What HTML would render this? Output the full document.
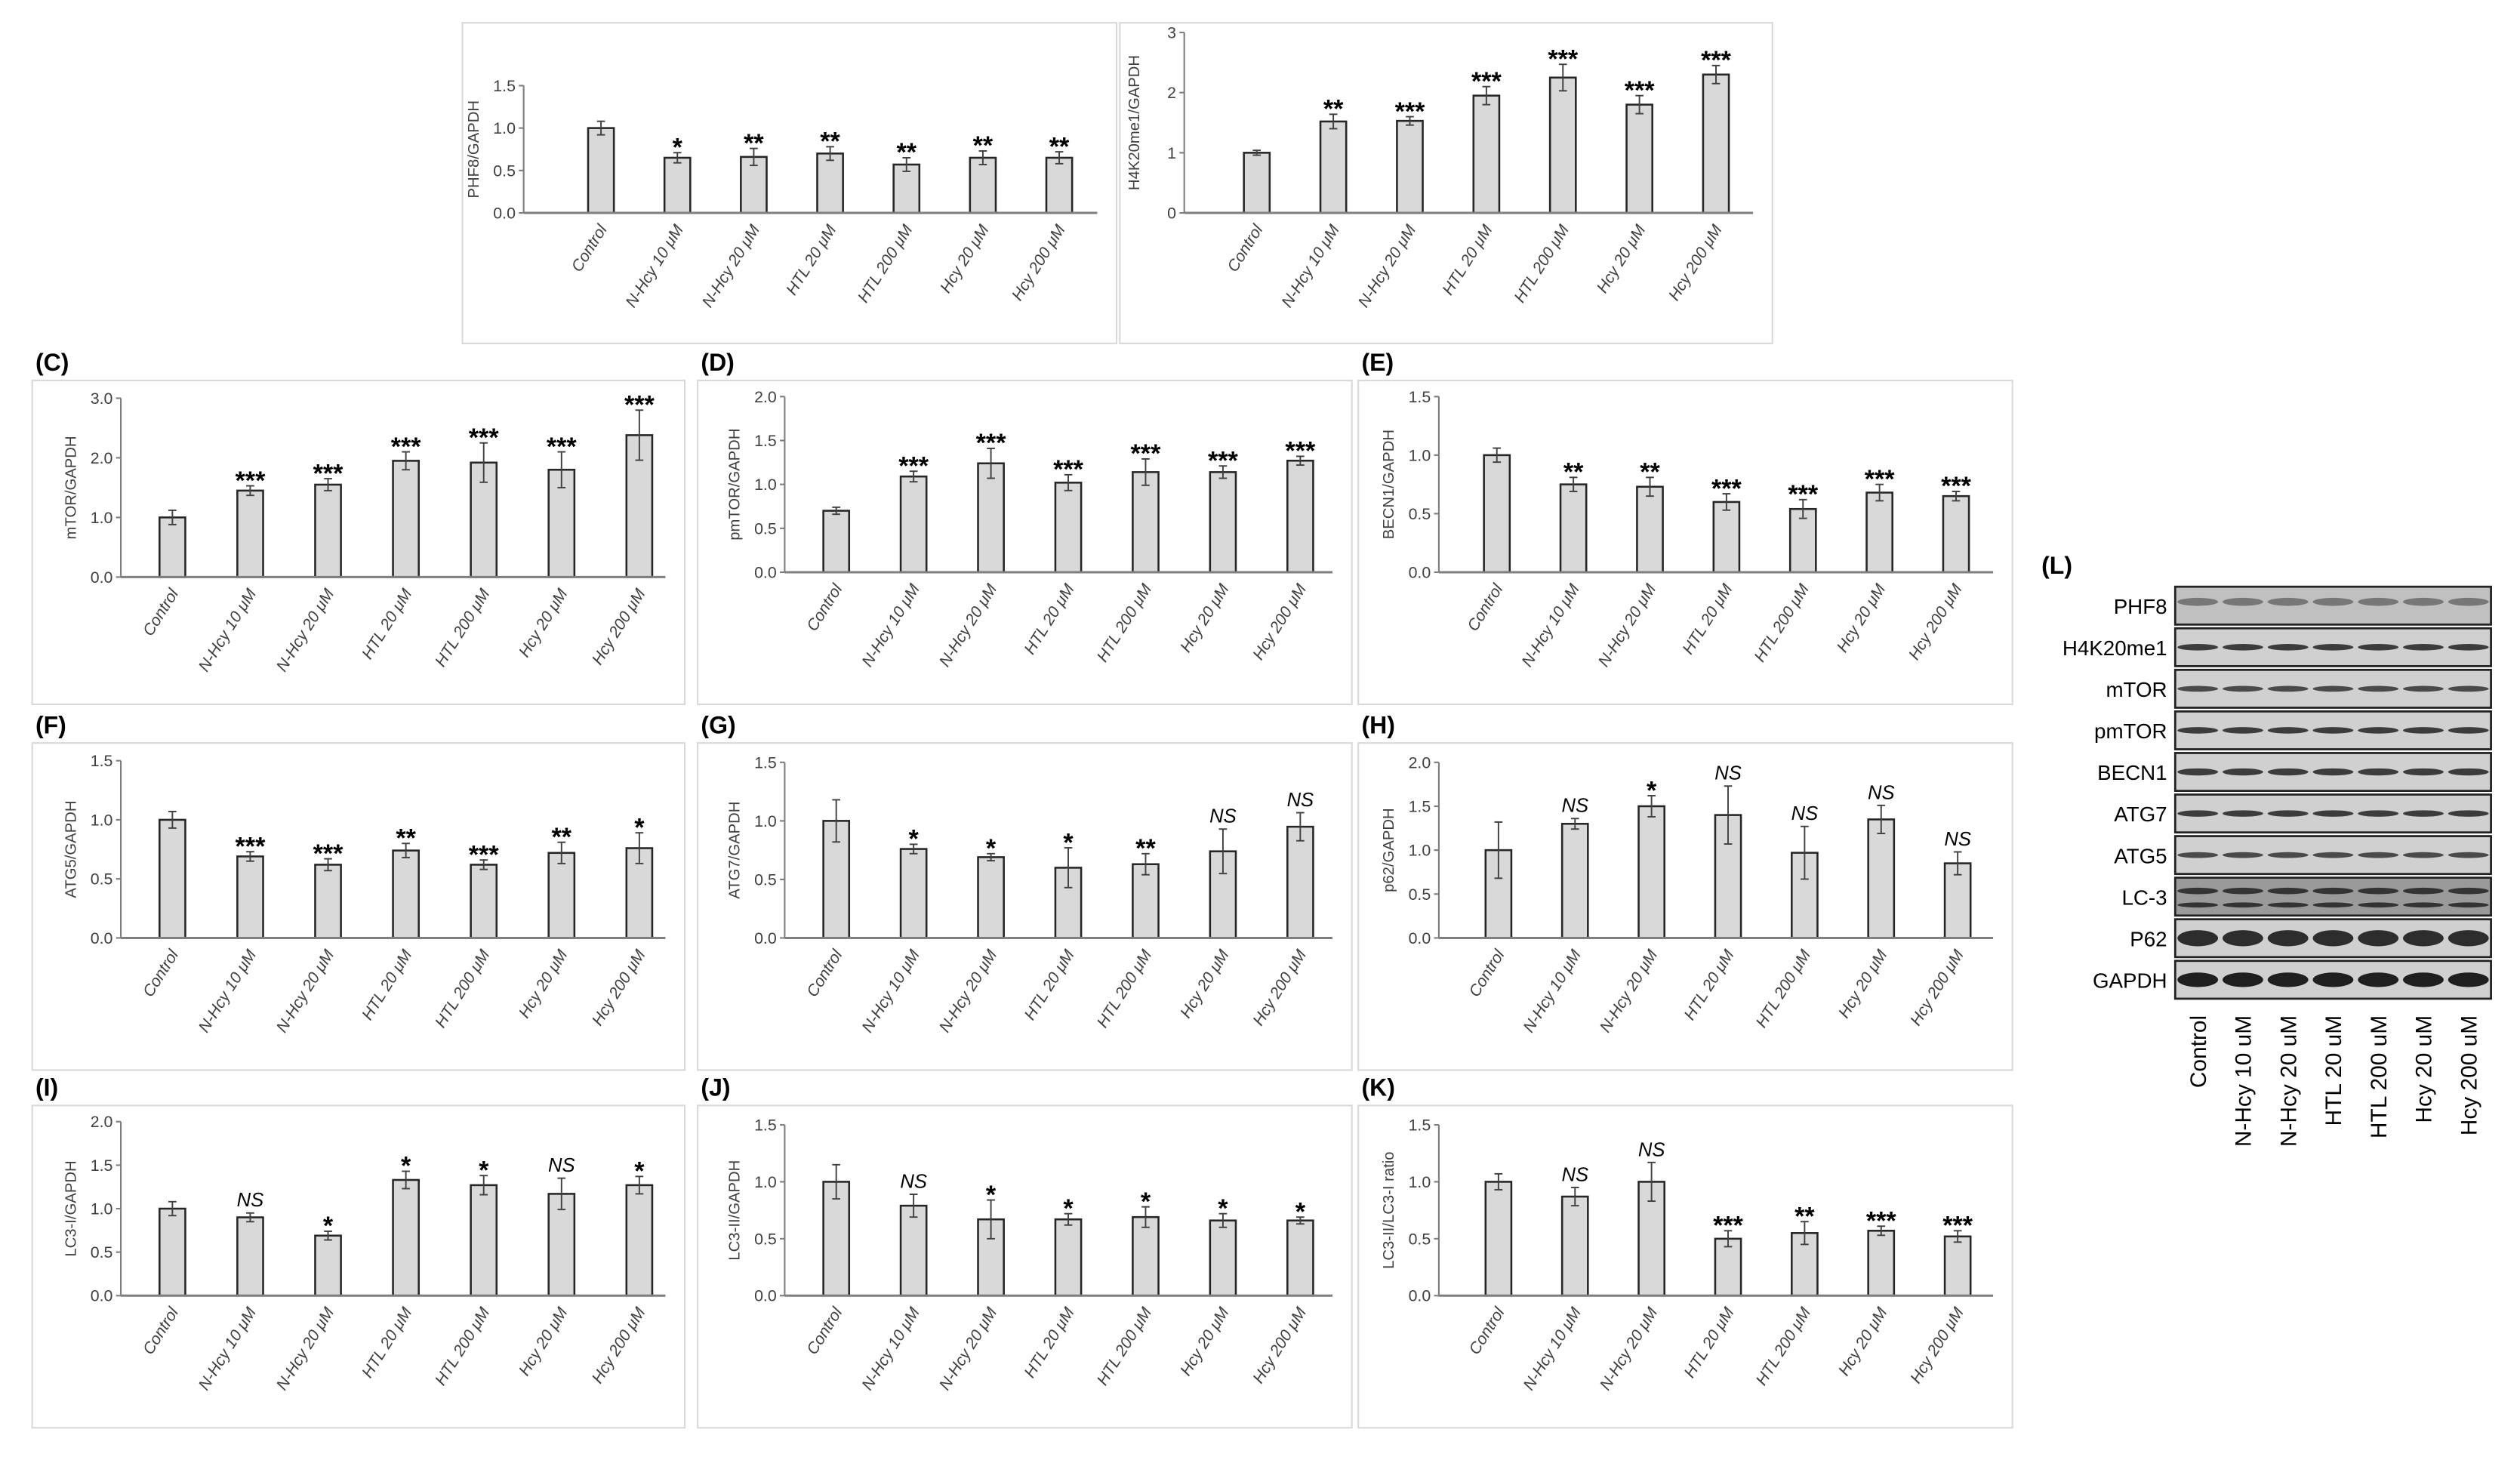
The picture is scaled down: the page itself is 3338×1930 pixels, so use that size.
<!DOCTYPE html>
<html><head><meta charset="utf-8"><style>
html,body{margin:0;padding:0;background:#fff;}
svg{display:block;}
text{font-family:"Liberation Sans","DejaVu Sans",sans-serif;}
</style></head><body>
<svg id="fig" width="3338" height="1930" viewBox="0 0 1564 904" xmlns="http://www.w3.org/2000/svg">
<rect x="0" y="0" width="1564" height="904" fill="#fff"/>
</svg>
<script>
const categories = ["Control","N-Hcy 10 \u03bcM","N-Hcy 20 \u03bcM","HTL 20 \u03bcM","HTL 200 \u03bcM","Hcy 20 \u03bcM","Hcy 200 \u03bcM"];

const phf8Vals = [1.0,0.65,0.66,0.70,0.57,0.65,0.65];
const phf8Errs = [0.08,0.06,0.10,0.08,0.08,0.08,0.07];
const phf8Sig = ["","*","**","**","**","**","**"];

const h4Vals = [1.0,1.52,1.53,1.95,2.25,1.80,2.30];
const h4Errs = [0.04,0.12,0.07,0.15,0.22,0.15,0.15];
const h4Sig = ["","**","***","***","***","***","***"];

const mtorVals = [1.0,1.45,1.55,1.95,1.92,1.80,2.38];
const mtorErrs = [0.12,0.08,0.10,0.15,0.33,0.30,0.42];
const mtorSig = ["","***","***","***","***","***","***"];

const pmtorVals = [0.70,1.09,1.24,1.02,1.14,1.14,1.27];
const pmtorErrs = [0.04,0.06,0.17,0.09,0.15,0.07,0.05];
const pmtorSig = ["","***","***","***","***","***","***"];

const becnVals = [1.0,0.75,0.73,0.60,0.54,0.68,0.65];
const becnErrs = [0.06,0.06,0.08,0.07,0.08,0.07,0.04];
const becnSig = ["","**","**","***","***","***","***"];

const atg5Vals = [1.0,0.69,0.62,0.74,0.62,0.72,0.76];
const atg5Errs = [0.07,0.04,0.05,0.06,0.04,0.09,0.13];
const atg5Sig = ["","***","***","**","***","**","*"];

const atg7Vals = [1.0,0.76,0.69,0.60,0.63,0.74,0.95];
const atg7Errs = [0.18,0.04,0.03,0.17,0.09,0.19,0.12];
const atg7Sig = ["","*","*","*","**","NS","NS"];

const p62Vals = [1.0,1.30,1.50,1.40,0.97,1.35,0.85];
const p62Errs = [0.32,0.06,0.12,0.33,0.30,0.16,0.13];
const p62Sig = ["","NS","*","NS","NS","NS","NS"];

const lc3iVals = [1.0,0.90,0.69,1.33,1.27,1.17,1.27];
const lc3iErrs = [0.08,0.05,0.05,0.10,0.11,0.18,0.10];
const lc3iSig = ["","NS","*","*","*","NS","*"];

const lc3iiVals = [1.0,0.79,0.67,0.67,0.69,0.66,0.66];
const lc3iiErrs = [0.15,0.10,0.17,0.05,0.09,0.06,0.03];
const lc3iiSig = ["","NS","*","*","*","*","*"];

const ratioVals = [1.0,0.87,1.0,0.50,0.55,0.57,0.52];
const ratioErrs = [0.07,0.08,0.17,0.07,0.10,0.04,0.05];
const ratioSig = ["","NS","NS","***","**","***","***"];

const ticks15 = ["0.0","0.5","1.0","1.5"];
const ticks20 = ["0.0","0.5","1.0","1.5","2.0"];
const ticks30 = ["0.0","1.0","2.0","3.0"];
const ticks3 = ["0","1","2","3"];

const blotLabels = ["PHF8","H4K20me1","mTOR","pmTOR","BECN1","ATG7","ATG5","LC-3","P62","GAPDH"];
const blotLanes = ["Control","N-Hcy 10 uM","N-Hcy 20 uM","HTL 20 uM","HTL 200 uM","Hcy 20 uM","Hcy 200 uM"];

const NS = "http://www.w3.org/2000/svg";
const svg = document.getElementById("fig");
function mk(tag, attrs, parent){
  const e = document.createElementNS(NS, tag);
  for (const k in attrs) e.setAttribute(k, attrs[k]);
  (parent||svg).appendChild(e);
  return e;
}

function panel(p){
  const g = mk("g", {});
  
  
  const box = mk("rect", {x:p.bx, y:p.by, width:p.bw, height:p.bh, fill:"#fff", stroke:"#d9d9d9", "stroke-width":1}, g);
  
  
  if (p.letter){
    const lt = mk("text", {x:p.bx+2, y:p.by-6, "font-size":15, "font-weight":"bold", fill:"#000"}, g);
    lt.textContent = p.letter;
    
    
  }
  const ax = p.ax, y0 = p.y0, yT = p.yTop, max = p.max;
  const xEnd = p.bx + p.bw - 12;
  const yS = v => y0 - (v/max)*(y0-yT);
  const xS = i => p.first + i*p.step;
  const ya = mk("line", {x1:ax, y1:yT, x2:ax, y2:y0, stroke:"#7f7f7f", "stroke-width":1}, g);
  
  
  p.ticks.forEach((t, i) => {
    const v = parseFloat(t);
    const y = yS(v);
    mk("line", {x1:ax-3, y1:y, x2:ax, y2:y, stroke:"#7f7f7f", "stroke-width":1}, g);
    const tt = mk("text", {x:ax-5, y:y+3.5, "font-size":10, "text-anchor":"end", fill:"#404040"}, g);
    tt.textContent = t;
    
    
  });
  const ymid = (y0+yT)/2;
  const yt = mk("text", {x:ax-28, y:ymid, "font-size":9.5, "text-anchor":"middle", fill:"#404040", transform:`rotate(-90 ${ax-28} ${ymid})`}, g);
  yt.textContent = p.title;
  
  
  p.vals.forEach((v, i) => {
    const cx = xS(i), w = 16;
    const bar = mk("rect", {x:cx-w/2, y:yS(v), width:w, height:y0-yS(v), fill:"#d9d9d9", stroke:"#262626", "stroke-width":1.2}, g);
    
    
    const e = p.errs[i];
    const eg = mk("g", {stroke:"#404040", "stroke-width":0.9}, g);
    
    
    mk("line", {x1:cx, y1:yS(v+e), x2:cx, y2:yS(v-e)}, eg);
    mk("line", {x1:cx-2.5, y1:yS(v+e), x2:cx+2.5, y2:yS(v+e)}, eg);
    mk("line", {x1:cx-2.5, y1:yS(v-e), x2:cx+2.5, y2:yS(v-e)}, eg);
    const s = p.sig[i];
    if (s){
      const st = mk("text", {x:cx, y:yS(v+e)-(s==="NS"?4:-2), "font-size":s==="NS"?12:16, "font-weight":s==="NS"?"normal":"bold", "text-anchor":"middle", fill:"#000", "font-style":s==="NS"?"italic":"normal"}, g);
      st.textContent = s;
      
      
    }
    const lx = cx+4, ly = y0+10;
    const xl = mk("text", {x:lx, y:ly, "font-size":10, "text-anchor":"end", "font-style":"italic", fill:"#404040", transform:`rotate(-58 ${lx} ${ly})`}, g);
    xl.textContent = categories[i];
    
    
  });
  const xa = mk("line", {x1:ax, y1:y0, x2:xEnd, y2:y0, stroke:"#7f7f7f", "stroke-width":1.4}, g);
  
  
}

panel({name:"chart-phf8", bx:287, by:14, bw:406, bh:199, ax:325, y0:132, yTop:53, max:1.5, first:373, step:47.4, ticks:ticks15, title:"PHF8/GAPDH", vals:phf8Vals, errs:phf8Errs, sig:phf8Sig});
panel({name:"chart-h4k20me1", bx:695, by:14, bw:405, bh:199, ax:735, y0:132, yTop:20, max:3, first:780, step:47.5, ticks:ticks3, title:"H4K20me1/GAPDH", vals:h4Vals, errs:h4Errs, sig:h4Sig});

panel({name:"chart-mtor", letter:"(C)", bx:20, by:236, bw:405, bh:201, ax:75, y0:358, yTop:247, max:3, first:107, step:48.3, ticks:ticks30, title:"mTOR/GAPDH", vals:mtorVals, errs:mtorErrs, sig:mtorSig});
panel({name:"chart-pmtor", letter:"(D)", bx:433, by:236, bw:406, bh:201, ax:487, y0:355, yTop:246, max:2, first:519, step:48, ticks:ticks20, title:"pmTOR/GAPDH", vals:pmtorVals, errs:pmtorErrs, sig:pmtorSig});
panel({name:"chart-becn1", letter:"(E)", bx:843, by:236, bw:406, bh:201, ax:893, y0:355, yTop:246, max:1.5, first:929, step:47.5, ticks:ticks15, title:"BECN1/GAPDH", vals:becnVals, errs:becnErrs, sig:becnSig});

panel({name:"chart-atg5", letter:"(F)", bx:20, by:461, bw:405, bh:203, ax:75, y0:582, yTop:472, max:1.5, first:107, step:48.3, ticks:ticks15, title:"ATG5/GAPDH", vals:atg5Vals, errs:atg5Errs, sig:atg5Sig});
panel({name:"chart-atg7", letter:"(G)", bx:433, by:461, bw:406, bh:203, ax:487, y0:582, yTop:473, max:1.5, first:519, step:48, ticks:ticks15, title:"ATG7/GAPDH", vals:atg7Vals, errs:atg7Errs, sig:atg7Sig});
panel({name:"chart-p62", letter:"(H)", bx:843, by:461, bw:406, bh:203, ax:893, y0:582, yTop:473, max:2, first:930, step:47.5, ticks:ticks20, title:"p62/GAPDH", vals:p62Vals, errs:p62Errs, sig:p62Sig});

panel({name:"chart-lc3-i", letter:"(I)", bx:20, by:686, bw:405, bh:200, ax:75, y0:804, yTop:696, max:2, first:107, step:48.3, ticks:ticks20, title:"LC3-I/GAPDH", vals:lc3iVals, errs:lc3iErrs, sig:lc3iSig});
panel({name:"chart-lc3-ii", letter:"(J)", bx:433, by:686, bw:406, bh:200, ax:487, y0:804, yTop:698, max:1.5, first:519, step:48, ticks:ticks15, title:"LC3-II/GAPDH", vals:lc3iiVals, errs:lc3iiErrs, sig:lc3iiSig});
panel({name:"chart-lc3-ratio", letter:"(K)", bx:843, by:686, bw:406, bh:200, ax:893, y0:804, yTop:698, max:1.5, first:930, step:47.5, ticks:ticks15, title:"LC3-II/LC3-I ratio", vals:ratioVals, errs:ratioErrs, sig:ratioSig});

// Western blot panel (L)
const bg = mk("g", {});


const lL = mk("text", {x:1267, y:356, "font-size":15, "font-weight":"bold", fill:"#000"}, bg);
lL.textContent = "(L)";


const bx0 = 1350, bx1 = 1546, rowTop = 364, pitch = 25.8, rowH = 23.5;
const laneW = (bx1-bx0)/7;
const bandH = [2.5,2,1.8,2,2.2,2,1.8,2,5,4.5];
const bandCol = ["#6a6a6a","#222","#333","#222","#222","#222","#333","#222","#111","#000"];
blotLabels.forEach((lab, r) => {
  const y = rowTop + r*pitch;
  const rr = mk("rect", {x:bx0, y:y, width:bx1-bx0, height:rowH, fill:r===7?"#9a9a9a":(r===0?"#c0c0c0":"#d0d0d0"), stroke:"#222", "stroke-width":1.3}, bg);
  
  
  for (let i=0;i<7;i++){
    const cx = bx0 + laneW*(i+0.5);
    mk("ellipse", {cx:cx, cy:y+rowH*(r===0?0.4:(r===7?0.35:0.5)), rx:laneW*0.45, ry:bandH[r], fill:bandCol[r], opacity:0.85}, bg);
    if (r===7) mk("ellipse", {cx:cx, cy:y+rowH*0.72, rx:laneW*0.45, ry:1.6, fill:"#333"}, bg);
  }
  const t = mk("text", {x:bx0-5, y:y+rowH/2+5, "font-size":13, "text-anchor":"end", fill:"#000"}, bg);
  t.textContent = lab;
  
  
});
blotLanes.forEach((lab, i) => {
  const cx = bx0 + laneW*(i+0.5) + 5, y = 630;
  const t = mk("text", {x:cx, y:y, "font-size":14, "text-anchor":"end", fill:"#000", transform:`rotate(-90 ${cx} ${y})`}, bg);
  t.textContent = lab;
  
  
});
</script>
</body></html>
